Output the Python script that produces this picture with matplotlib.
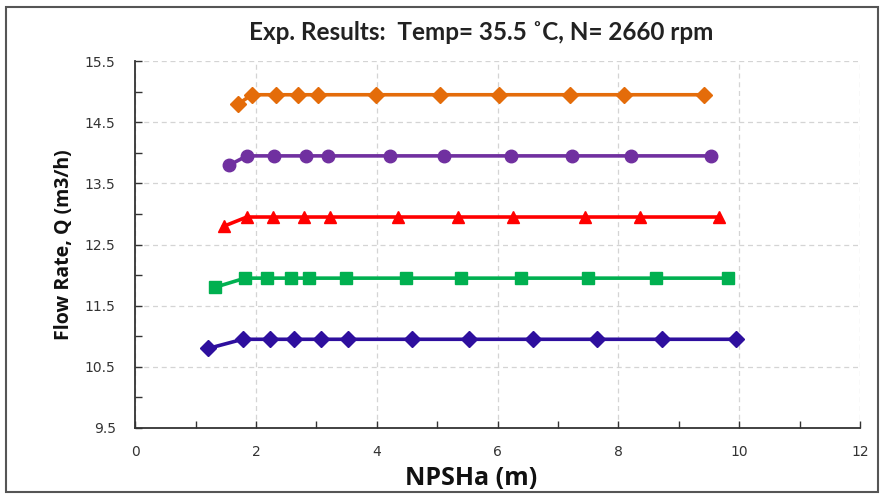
import matplotlib
matplotlib.use("Agg")
import matplotlib.pyplot as plt
from matplotlib.patches import Rectangle
from matplotlib.ticker import MultipleLocator

# ── Data ──────────────────────────────────────────────────────────────────────
x_orange = [1.71, 1.93, 2.33, 2.69, 3.02, 3.98, 5.04, 6.03, 7.20, 8.09, 9.41]
q_orange = [14.80, 14.95, 14.95, 14.95, 14.95, 14.95, 14.95, 14.95, 14.95, 14.95, 14.95]

x_purple = [1.56, 1.85, 2.30, 2.83, 3.19, 4.22, 5.12, 6.23, 7.24, 8.21, 9.53]
q_purple = [13.80, 13.95, 13.95, 13.95, 13.95, 13.95, 13.95, 13.95, 13.95, 13.95, 13.95]

x_red = [1.47, 1.85, 2.28, 2.80, 3.23, 4.35, 5.35, 6.26, 7.45, 8.36, 9.66]
q_red = [12.80, 12.95, 12.95, 12.95, 12.95, 12.95, 12.95, 12.95, 12.95, 12.95, 12.95]

x_green = [1.32, 1.82, 2.18, 2.58, 2.88, 3.49, 4.49, 5.40, 6.38, 7.49, 8.62, 9.81]
q_green = [11.80, 11.95, 11.95, 11.95, 11.95, 11.95, 11.95, 11.95, 11.95, 11.95, 11.95, 11.95]

x_blue = [1.21, 1.78, 2.24, 2.63, 3.07, 3.52, 4.58, 5.53, 6.59, 7.64, 8.73, 9.95]
q_blue = [10.80, 10.95, 10.95, 10.95, 10.95, 10.95, 10.95, 10.95, 10.95, 10.95, 10.95, 10.95]

y_ticks = [9.5, 10.5, 11.5, 12.5, 13.5, 14.5, 15.5]

SERIES = [
    (x_orange, q_orange, "#E46C0A", "D", 8),
    (x_purple, q_purple, "#7030A0", "o", 9),
    (x_red,    q_red,    "#FF0000", "^", 9),
    (x_green,  q_green,  "#00B050", "s", 8),
    (x_blue,   q_blue,   "#2E0F9E", "D", 8),
]

# ── Plot ──────────────────────────────────────────────────────────────────────
plt.rcParams["font.family"] = ["DejaVu Sans"]
fig = plt.figure(figsize=(8.83, 4.97), dpi=100, facecolor="white")
ax = fig.add_axes([0.153, 0.139, 0.821, 0.738])

for xs, qs, col, mk, ms in SERIES:
    ax.plot(xs, qs, color=col, lw=2.6, marker=mk, ms=ms, mec=col, mfc=col,
            zorder=3, clip_on=False)

ax.set_xlim(0, 12)
ax.set_ylim(9.5, 15.5)
ax.xaxis.set_major_locator(MultipleLocator(2))
ax.xaxis.set_minor_locator(MultipleLocator(1))
ax.yaxis.set_minor_locator(MultipleLocator(0.5))
ax.set_yticks(y_ticks)
ax.set_yticklabels([f"{v:g}" for v in y_ticks])

ax.tick_params(axis="both", which="both", direction="in", colors="#333333",
               labelsize=10, length=5, width=1.0, pad=12)
ax.tick_params(axis="y", pad=14)
ax.grid(True, which="major", color="#d4d4d4", ls=(0, (4, 3)), lw=0.9)

for sp in ["top", "right"]:
    ax.spines[sp].set_visible(False)
for sp in ["left", "bottom"]:
    ax.spines[sp].set_color("#333333")
    ax.spines[sp].set_linewidth(1.3)

ax.set_xlabel("NPSHa (m)", fontsize=18, fontweight="bold", color="#111111",
              family=["Open Sans", "DejaVu Sans"], labelpad=0)
ax.xaxis.set_label_coords(0.463, -0.105)
ax.set_ylabel("Flow Rate, Q (m3/h)", fontsize=14, fontweight="bold", color="#111111",
              family=["Open Sans", "DejaVu Sans"], labelpad=8)
fig.text(0.545, 0.935, "Exp. Results:  Temp= 35.5 ˚C, N= 2660 rpm",
         ha="center", va="center", fontsize=17.5, fontweight="bold",
         color="#222222", family=["Lato", "DejaVu Sans"])

# outer frame
fig.patches.append(Rectangle((0.007, 0.01), 0.987, 0.975, transform=fig.transFigure,
                             fill=False, ec="#555555", lw=1.5))

fig.savefig("out.png", dpi=100, facecolor="white")
